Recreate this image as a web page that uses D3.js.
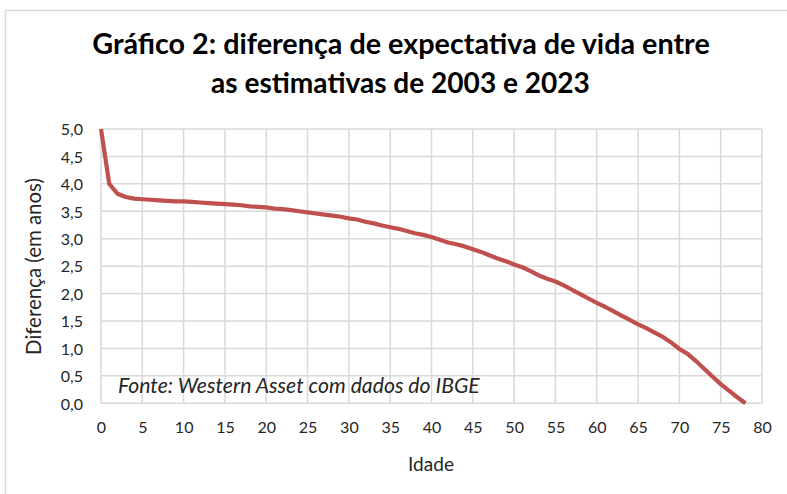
<!DOCTYPE html>
<html><head><meta charset="utf-8">
<script src="https://cdn.jsdelivr.net/npm/d3@7"></script>
<style>body{margin:0;background:#fff}svg{display:block}</style>
</head><body>
<svg id="c" width="787" height="494"></svg>
<script>
const titleLines = ["Gráfico 2: diferença de expectativa de vida entre", "as estimativas de 2003 e 2023"];
const yAxisTitle = "Diferença (em anos)";
const xAxisTitle = "Idade";
const sourceNote = "Fonte: Western Asset com dados do IBGE";
const ages = d3.range(0, 79);
const diff = [5.00,4.00,3.82,3.76,3.73,3.72,3.71,3.70,3.69,3.68,
  3.68,3.67,3.66,3.65,3.64,3.63,3.62,3.61,3.59,3.58,
  3.57,3.55,3.54,3.52,3.50,3.48,3.46,3.44,3.42,3.40,
  3.37,3.35,3.31,3.28,3.24,3.21,3.18,3.14,3.10,3.07,
  3.03,2.98,2.93,2.90,2.86,2.81,2.76,2.70,2.64,2.59,
  2.53,2.48,2.41,2.33,2.27,2.22,2.15,2.07,1.99,1.91,
  1.83,1.76,1.68,1.60,1.52,1.44,1.37,1.29,1.21,1.11,
  0.99,0.90,0.77,0.63,0.49,0.35,0.23,0.11,0.00];
const xTicks = d3.range(0, 81, 5);
const yTicks = d3.range(0, 5.01, 0.5);

const svg = d3.select("#c");
const font = "Lato, 'Open Sans', sans-serif";
const ink = "#262626";

function sizeFor(str, target, opts){
  const t = svg.append("text").attr("font-family",font).attr("font-size",20)
    .attr("font-style",opts&&opts.italic?"italic":null).attr("font-weight",opts&&opts.bold?"bold":null).text(str);
  const w = t.node().getComputedTextLength(); t.remove();
  return 20*target/w;
}
const tickFs = sizeFor("40", 18.6);

svg.append("rect").attr("x",5.5).attr("y",10.5).attr("width",800).attr("height",500)
  .attr("fill","#fff").attr("stroke","#d9d9d9").attr("stroke-width",1.5);

const x = d3.scaleLinear().domain([0,80]).range([101,762]);
const y = d3.scaleLinear().domain([0,5]).range([403.3,129]);

const g = svg.append("g");
g.selectAll(".gy").data(yTicks).join("line")
  .attr("x1",x(0)).attr("x2",x(80)).attr("y1",d=>y(d)).attr("y2",d=>y(d))
  .attr("stroke","#d9d9d9").attr("stroke-width",1.5);
g.selectAll(".gx").data(xTicks).join("line")
  .attr("y1",y(0)).attr("y2",y(5)).attr("x1",d=>x(d)).attr("x2",d=>x(d))
  .attr("stroke","#d9d9d9").attr("stroke-width",1.5);

const xAxis = svg.append("g").attr("transform",`translate(0,${y(0)})`)
  .call(d3.axisBottom(x).tickValues(xTicks).tickSize(0).tickFormat(d3.format("d")));
xAxis.selectAll("text").attr("y",30).attr("dy",0);
const yAxis = svg.append("g").attr("transform",`translate(${x(0)},0)`)
  .call(d3.axisLeft(y).tickValues(yTicks).tickSize(0).tickPadding(18)
    .tickFormat(d => d3.format(".1f")(d).replace(".", ",")));
yAxis.selectAll("text").attr("dy","0.36em");
[xAxis,yAxis].forEach(a=>{
  a.select(".domain").remove();
  a.selectAll("text").attr("font-family",font).attr("font-size",tickFs).attr("fill",ink);
});

svg.append("text").attr("x",118).attr("y",393).attr("font-family",font)
  .attr("font-style","italic").attr("font-size",sizeFor(sourceNote,362,{italic:true})).attr("fill",ink).text(sourceNote);

svg.append("path").datum(ages.map((a,i)=>[a,diff[i]]))
  .attr("fill","none").attr("stroke","#c0504d").attr("stroke-width",4.2)
  .attr("stroke-linejoin","round").attr("stroke-linecap","butt")
  .attr("d", d3.line().x(d=>x(d[0])).y(d=>y(d[1])));

svg.append("text").attr("x",401).attr("y",54).attr("text-anchor","middle")
  .attr("font-family",font).attr("font-weight","bold").attr("font-size",sizeFor(titleLines[0],618,{bold:true}))
  .attr("fill","#000").text(titleLines[0]);
svg.append("text").attr("x",400.5).attr("y",93).attr("text-anchor","middle")
  .attr("font-family",font).attr("font-weight","bold").attr("font-size",sizeFor(titleLines[1],379,{bold:true}))
  .attr("fill","#000").text(titleLines[1]);

svg.append("text").attr("transform","translate(41,266.5) rotate(-90)").attr("text-anchor","middle")
  .attr("font-family",font).attr("font-size",sizeFor(yAxisTitle,177)).attr("fill",ink).text(yAxisTitle);
svg.append("text").attr("x",431).attr("y",471).attr("text-anchor","middle")
  .attr("font-family",font).attr("font-size",sizeFor(xAxisTitle,46)).attr("fill",ink).text(xAxisTitle);
</script>
</body></html>
